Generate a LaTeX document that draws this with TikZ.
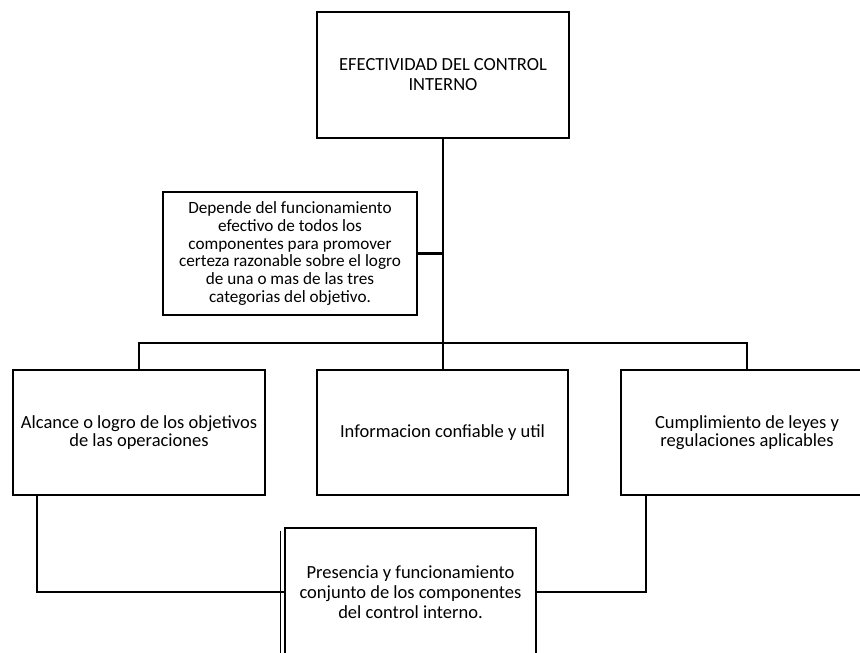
\documentclass[tikz,border=0pt]{standalone}
\usepackage{fontspec}
\setmainfont{Carlito}
\begin{document}
\begin{tikzpicture}[x=1pt,y=-1pt,
  box/.style={draw,line width=2.6pt,align=center,inner sep=0pt,font=\fontsize{18.5}{20}\selectfont},
  link/.style={line width=2.4pt}]
\useasboundingbox (0,0) rectangle (860,653);
\node[box,minimum width=252pt,minimum height=126pt] (top) at (443,75) {EFECTIVIDAD DEL CONTROL\\INTERNO};
\node[box,minimum width=254pt,minimum height=123pt,font=\fontsize{17.2}{17.8}\selectfont] (dep) at (290,253.5) {Depende del funcionamiento\\efectivo de todos los\\componentes para promover\\certeza razonable sobre el logro\\de una o mas de las tres\\categorias del objetivo.};
\node[box,minimum width=252pt,minimum height=125pt,font=\fontsize{18.5}{18.5}\selectfont] (left) at (139,432.5) {Alcance o logro de los objetivos\\de las operaciones};
\node[box,minimum width=251pt,minimum height=125pt,font=\fontsize{18.5}{18.5}\selectfont] (mid) at (442.5,432.5) {Informacion confiable y util};
\node[box,minimum width=252pt,minimum height=125pt,font=\fontsize{18.5}{18.5}\selectfont] (right) at (747,432.5) {Cumplimiento de leyes y\\regulaciones aplicables};
\node[box,minimum width=251pt,minimum height=128pt] (bottom) at (410.5,592) {Presencia y funcionamiento\\conjunto de los componentes\\del control interno.};
\coordinate (bar) at (443,343);
\draw[link] (top.south) -- (top.south |- mid.north);
\draw[link] (left.north) |- (bar) -| (right.north);
\draw[link] (dep.east) -- (dep.east -| top.south);
\draw[link] ([xshift=25pt]left.south west) |- (bottom.west);
\draw[link] ([xshift=26pt]right.south west) |- (bottom.east);
\draw[line width=1.4pt] ([xshift=-3.5pt,yshift=-4pt]bottom.north west) -- ([xshift=-3.5pt]bottom.south west);
\end{tikzpicture}
\end{document}
